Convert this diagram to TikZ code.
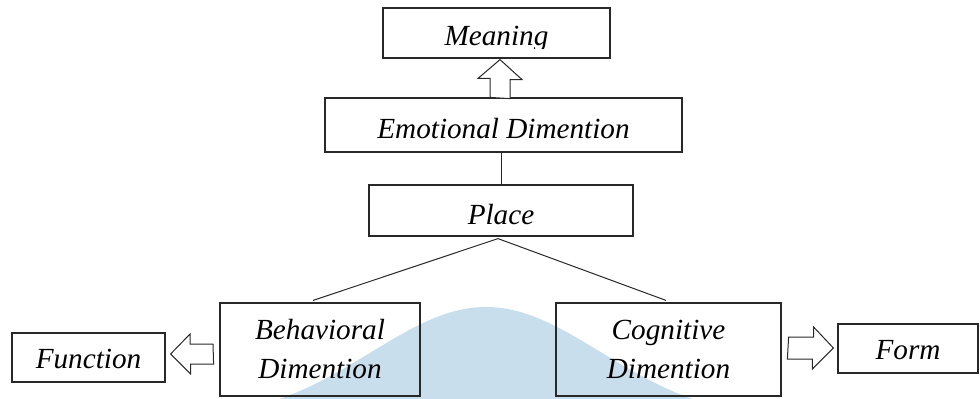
\documentclass[tikz,border=0pt]{standalone}
\usepackage{fontspec}
\newfontfamily\figfont{Liberation Serif}
\usetikzlibrary{calc}
\definecolor{wmblue}{RGB}{200,222,236}
\definecolor{ln}{RGB}{40,40,40}
\begin{document}
\begin{tikzpicture}[x=0.5pt,y=-0.5pt,
  box/.style={draw=ln, line width=0.6pt, inner sep=0pt, align=center,
    font=\figfont\fontsize{14.6pt}{19.5pt}\selectfont\itshape},
  lbl/.style={inner sep=0pt, font=\figfont\fontsize{14.6pt}{19.5pt}\selectfont\itshape},
  conn/.style={draw=ln, line width=0.5pt},
  blk/.style={draw=ln, line width=0.5pt, fill=white, line join=miter}]
\useasboundingbox (0,0) rectangle (980,398);
% watermark
\begin{scope}
\clip (0,0) rectangle (980,398);
\fill[wmblue] plot[domain=255:720, samples=90, smooth]
  (\x, {307+115*(1-exp(-((\x-486)/100)*((\x-486)/100)/2.645))}) -- cycle;
\end{scope}
% boxes
\node[box, minimum width=113.5pt, minimum height=25pt] (mean) at (496.5,33) {};
\begin{scope}
\clip (383,8) rectangle (610,48);
\node[lbl, anchor=base] (meantxt) at (496.5,45) {Meaning};
\end{scope}
\node[box, minimum width=178.5pt, minimum height=27pt, text height=13pt, text depth=0pt] (emo) at (503.5,125) {Emotional Dimention};
\node[box, minimum width=132pt, minimum height=25.5pt, text height=14pt, text depth=0pt] (place) at (501,210.5) {Place};
\node[box, minimum width=100pt, minimum height=46.5pt] (beh) at (320,349.5) {Behavioral\\Dimention};
\node[box, minimum width=112.5pt, minimum height=46.5pt] (cog) at (668.5,349.5) {Cognitive\\Dimention};
\node[box, minimum width=76.5pt, minimum height=24.5pt, text height=11pt, text depth=0pt] (fun) at (88.5,357.5) {Function};
\node[box, minimum width=70pt, minimum height=24.5pt, text height=11pt, text depth=0pt] (form) at (908,348.5) {Form};
% up block arrow
\coordinate (utip) at ($(mean.south)+(3.5,1)$);
\coordinate (ubase) at (utip |- emo.north);
\draw[blk] (ubase) ++(-10,0) -- ++(0,-19) -- ++(-12,0) -- (utip) -- ++(22,20) -- ++(-12,0) -- ++(0,19) -- cycle;
% lines
\draw[conn] (place.north |- emo.south) -- (place.north);
\coordinate (pfork) at ($(place.south)+(-3,2)$);
\coordinate (bend) at ($(beh.north)+(-7,-2)$);
\coordinate (cend) at ($(cog.north)+(-2.5,-2)$);
\draw[conn] (bend) -- (pfork) -- (cend);
% left block arrow
\coordinate (ltip) at ($(fun.east)+(5,-3.5)$);
\coordinate (lbase) at (ltip -| 213,0);
\draw[blk] (lbase) ++(0,-10) -- ++(-23,0) -- ++(0,-10) -- (ltip) -- ++(20,20) -- ++(0,-10) -- ++(23,0) -- cycle;
% right block arrow
\coordinate (rbase) at ($(cog.east)+(7,-1.5)$);
\coordinate (rtip) at ($(form.west)+(-4,-0.5)$);
\draw[blk] (rbase) ++(0,-11) -- ++(25,0) -- ++(0,-10) -- (rtip) -- ++(-21,21) -- ++(0,-10) -- ++(-25,0) -- cycle;
\end{tikzpicture}
\end{document}
